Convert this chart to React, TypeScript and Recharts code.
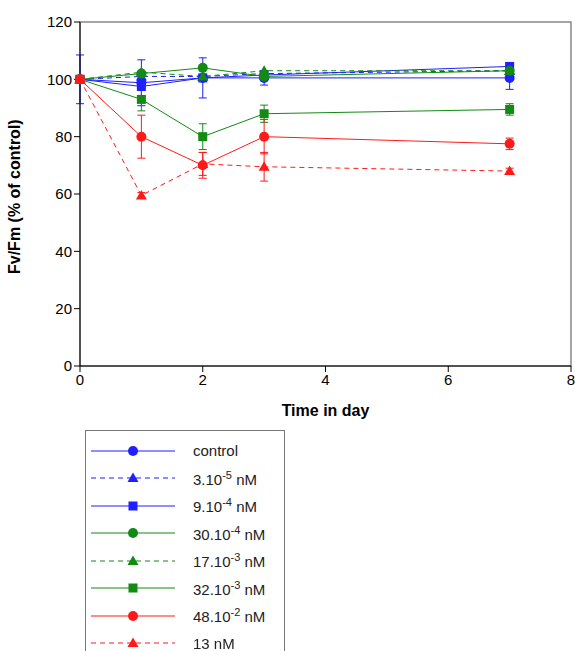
import { LineChart, Line, XAxis, YAxis, ErrorBar, ReferenceArea } from 'recharts';

const days = [0, 1, 2, 3, 7];
const control = [100, 98.8, 100.5, 100.5, 100.5];
const c3e5 = [100, 101, 101, 102, 103];
const c9e4 = [100, 97.5, 100.5, 101.5, 104.5];
const c30e4 = [100, 102, 104, 101, 103];
const c17e3 = [100, 102.5, 101, 103, 103];
const c32e3 = [100, 93, 80, 88, 89.5];
const c48e2 = [100, 80, 70, 80, 77.5];
const c13 = [100, 59.5, 70.5, 69.5, 68];
const errControl = [8.5, 8, 7, 2.5, 4];
const errGreen = [1, 4, 4.5, 3, 2];
const errRed = [1, 7.5, 4.5, 6, 2];
const err13 = [1, 1, 4, 5, 1];

const series = [
  { key: 'control', label: ['control'], values: control, err: errControl, color: '#1f1fff', dash: undefined, shape: 'circle' },
  { key: 'c3e5', label: ['3.10', '-5', ' nM'], values: c3e5, err: null, color: '#1f1fff', dash: '5 4', shape: 'triangle' },
  { key: 'c9e4', label: ['9.10', '-4', ' nM'], values: c9e4, err: null, color: '#1f1fff', dash: undefined, shape: 'square' },
  { key: 'c30e4', label: ['30.10', '-4', ' nM'], values: c30e4, err: null, color: '#138a13', dash: undefined, shape: 'circle' },
  { key: 'c17e3', label: ['17.10', '-3', ' nM'], values: c17e3, err: null, color: '#138a13', dash: '5 4', shape: 'triangle' },
  { key: 'c32e3', label: ['32.10', '-3', ' nM'], values: c32e3, err: errGreen, color: '#138a13', dash: undefined, shape: 'square' },
  { key: 'c48e2', label: ['48.10', '-2', ' nM'], values: c48e2, err: errRed, color: '#ff1a1a', dash: undefined, shape: 'circle' },
  { key: 'c13', label: ['13 nM'], values: c13, err: err13, color: '#ff1a1a', dash: '5 4', shape: 'triangle' },
];

const data = days.map((d, i) => {
  const row: any = { day: d };
  series.forEach((s) => {
    row[s.key] = s.values[i];
    if (s.err) row[s.key + '_e'] = s.err[i];
  });
  return row;
});

function Marker({ shape, color, cx, cy }: any) {
  if (cx == null || cy == null) return null;
  if (shape === 'square') return <rect x={cx - 4.5} y={cy - 4.5} width={9} height={9} fill={color} />;
  if (shape === 'triangle')
    return <polygon points={`${cx},${cy - 5.5} ${cx + 5.5},${cy + 4} ${cx - 5.5},${cy + 4}`} fill={color} />;
  return <circle cx={cx} cy={cy} r={5} fill={color} />;
}

export default function App() {
  return (
    <div style={{ position: 'fixed', left: 0, top: 0, width: 575, height: 651, background: '#fff', fontFamily: 'Liberation Sans, Arial, sans-serif' }}>
      <LineChart width={575} height={425} data={data} margin={{ top: 22, right: 4, bottom: 5, left: 0 }}>
        <ReferenceArea x1={0} x2={8} y1={0} y2={120} fill="none" stroke="#888" strokeWidth={1.5} ifOverflow="visible" />
        <XAxis
          dataKey="day" type="number" domain={[0, 8]} ticks={[0, 2, 4, 6, 8]} height={54}
          tick={{ fill: '#000', fontSize: 15 }} stroke="#000" tickSize={6}
          label={{ value: 'Time in day', position: 'insideBottom', offset: 4, fill: '#000', fontSize: 16, fontWeight: 'bold' }}
        />
        <YAxis
          type="number" domain={[0, 120]} ticks={[0, 20, 40, 60, 80, 100, 120]} width={80}
          tick={{ fill: '#000', fontSize: 15 }} stroke="#000" tickSize={6}
          label={{ value: 'Fv/Fm (% of control)', angle: -90, position: 'insideLeft', offset: 14, dy: 80, fill: '#000', fontSize: 16, fontWeight: 'bold' }}
        />
        {series.map((s) => (
          <Line
            key={s.key} dataKey={s.key} stroke={s.color} strokeWidth={1} strokeDasharray={s.dash}
            isAnimationActive={false}
            dot={(p: any) => <Marker key={p.index} shape={s.shape} color={s.color} cx={p.cx} cy={p.cy} />}
          >
            {s.err && <ErrorBar dataKey={s.key + '_e'} width={4} stroke={s.color} strokeWidth={1} />}
          </Line>
        ))}
      </LineChart>
      <div style={{ position: 'absolute', left: 85, top: 430, width: 200, height: 225, border: '1px solid #777', boxSizing: 'border-box', paddingTop: 6 }}>
        {series.map((s) => (
          <div key={s.key} style={{ display: 'flex', alignItems: 'center', height: 27.5 }}>
            <svg width={90} height={16} style={{ marginLeft: 5 }}>
              <line x1={0} y1={8} x2={84} y2={8} stroke={s.color} strokeWidth={1} strokeDasharray={s.dash} />
              <Marker shape={s.shape} color={s.color} cx={42} cy={8} />
            </svg>
            <span style={{ marginLeft: 12, fontSize: 15, color: '#222' }}>
              {s.label[0]}
              {s.label[1] && <sup style={{ fontSize: 11 }}>{s.label[1]}</sup>}
              {s.label[2]}
            </span>
          </div>
        ))}
      </div>
    </div>
  );
}
